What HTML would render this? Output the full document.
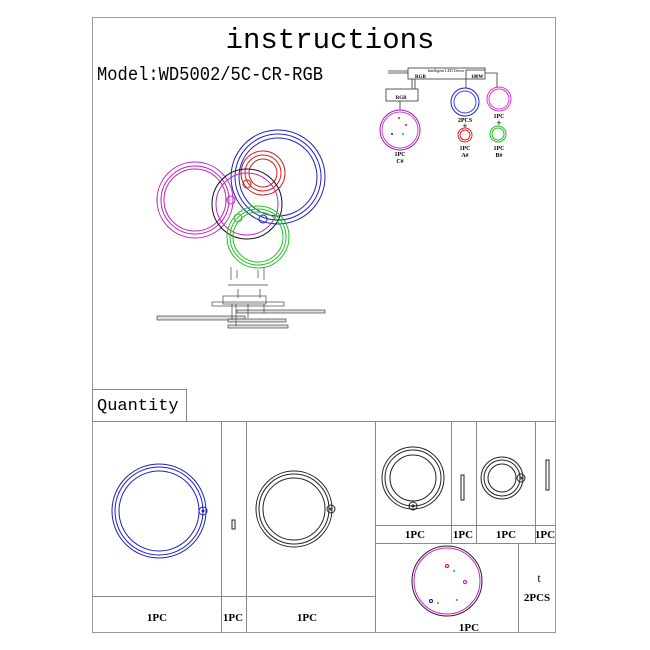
<!DOCTYPE html>
<html><head><style>
body{margin:0;background:#fff;}
svg{display:block;}
</style></head><body>
<svg width="650" height="650" viewBox="0 0 650 650" xmlns="http://www.w3.org/2000/svg" font-family="Liberation Serif, serif">
<rect x="92.5" y="17.5" width="463" height="615" fill="none" stroke="#999" stroke-width="1"/>
<text x="330" y="48" font-size="29" text-anchor="middle" font-family="Liberation Mono, monospace">instructions</text>
<text x="97" y="80" font-size="19" font-family="Liberation Mono, monospace" textLength="226" lengthAdjust="spacingAndGlyphs">Model:WD5002/5C-CR-RGB</text>

<!-- wiring diagram -->
<g fill="none" stroke="#333" stroke-width="0.8">
<rect x="408" y="68" width="77" height="11" fill="#fff"/>
<path d="M388 71H408M388 73H408M485 73H497V88M485 70H466V88M415 79V89M412 79V89"/>
<rect x="386" y="89" width="32" height="12" fill="#fff"/>
<path d="M400 101V110"/>
</g>
<text x="446" y="72" font-size="4" text-anchor="middle">Intelligent LED Driver</text>
<text x="415" y="78" font-size="5" font-weight="bold">RGB</text>
<text x="471" y="78" font-size="5" font-weight="bold">180W</text>
<text x="401" y="99" font-size="5" text-anchor="middle" font-weight="bold">RGB</text>
<g fill="none" stroke-width="1">
<circle cx="400" cy="130" r="20" stroke="#a020a0"/><circle cx="400" cy="130" r="18" stroke="#d040d0"/>
<circle cx="465" cy="102" r="14" stroke="#2020d0"/><circle cx="465" cy="102" r="11" stroke="#4040f0"/>
<circle cx="499" cy="99" r="12" stroke="#e030e0"/><circle cx="499" cy="99" r="10" stroke="#e030e0"/>
<circle cx="465" cy="135" r="7" stroke="#e02020"/><circle cx="465" cy="135" r="5" stroke="#e02020"/>
<circle cx="498" cy="134" r="8" stroke="#20c020"/><circle cx="498" cy="134" r="6" stroke="#20c020"/>
</g>
<circle cx="399" cy="118" r="1" fill="red"/><circle cx="406" cy="125" r="1" fill="#d0d"/><circle cx="392" cy="134" r="1" fill="blue"/><circle cx="403" cy="134" r="1" fill="#0c0"/>
<g font-size="6" font-weight="bold" text-anchor="middle">
<text x="400" y="156">1PC</text><text x="400" y="163">C#</text>
<text x="465" y="122">2PCS</text><text x="465" y="129" font-size="9">+</text>
<text x="499" y="118">1PC</text><text x="499" y="126" font-size="9">+</text>
<text x="465" y="150">1PC</text><text x="465" y="157">A#</text>
<text x="499" y="150">1PC</text><text x="499" y="157">B#</text>
</g>

<!-- exploded rings -->
<g fill="none" stroke-width="1">
<circle cx="195" cy="200" r="38" stroke="#c020c0"/><circle cx="195" cy="200" r="34" stroke="#c020c0"/><circle cx="195" cy="200" r="31" stroke="#c020c0"/>
<circle cx="278" cy="177" r="47" stroke="#2020c0"/><circle cx="278" cy="177" r="43" stroke="#2020c0"/><circle cx="278" cy="177" r="39" stroke="#2020c0"/>
<circle cx="263" cy="173" r="22" stroke="#d02020"/><circle cx="263" cy="173" r="18" stroke="#d02020"/><circle cx="263" cy="173" r="14" stroke="#d02020"/>
<circle cx="247" cy="204" r="35" stroke="#111"/><circle cx="247" cy="204" r="31" stroke="#c020c0"/>
<circle cx="258" cy="237" r="31" stroke="#20c020"/><circle cx="258" cy="237" r="28" stroke="#20c020"/><circle cx="258" cy="237" r="25" stroke="#20c020"/>
<circle cx="247" cy="184" r="4" stroke="#d02020"/><circle cx="231" cy="200" r="4" stroke="#c020c0"/>
<circle cx="238" cy="218" r="4" stroke="#20c020"/><circle cx="263" cy="219" r="4" stroke="#2020c0"/>
</g>
<!-- mounting -->
<g fill="none" stroke="#444" stroke-width="0.7">
<path d="M231 267V280M237 270V278M258 270V278M264 267V280M228 285H268M238 289V298M260 289V298"/>
<rect x="223" y="296" width="43" height="8"/>
<rect x="212" y="302" width="72" height="4"/>
<rect x="157" y="316" width="88" height="4" fill="#ddd"/>
<rect x="237" y="310" width="88" height="3" fill="#ddd"/>
<rect x="228" y="319" width="58" height="3" fill="#ddd"/>
<rect x="228" y="325" width="60" height="3" fill="#ddd"/>
<path d="M232 304V320M236 304V326M248 304V318M264 304V313"/>
</g>

<!-- quantity table -->
<g fill="none" stroke="#888" stroke-width="1">
<rect x="92.5" y="389.5" width="94" height="32"/>
<path d="M92 421.5H556M221.5 421V633M246.5 421V633M375.5 421V633M92 596.5H375"/>
<path d="M451.5 421V543M476.5 421V543M535.5 421V543M375 525.5H556M375 543.5H556M518.5 543V633"/>
</g>
<text x="97" y="410" font-size="17" font-family="Liberation Mono, monospace">Quantity</text>
<g fill="none" stroke="#2020c0">
<circle cx="159" cy="511" r="47"/><circle cx="159" cy="511" r="44"/><circle cx="159" cy="511" r="40"/>
<circle cx="203" cy="511" r="4"/><circle cx="203" cy="511" r="1"/>
</g>
<rect x="232" y="520" width="3" height="9" fill="none" stroke="#222"/>
<g fill="none" stroke="#222">
<circle cx="294" cy="509" r="38"/><circle cx="294" cy="509" r="35"/><circle cx="294" cy="509" r="31"/>
<circle cx="331" cy="509" r="4"/><circle cx="331" cy="509" r="1"/>
<circle cx="413" cy="478" r="31"/><circle cx="413" cy="478" r="28"/><circle cx="413" cy="478" r="23"/>
<circle cx="413" cy="506" r="4"/><circle cx="413" cy="506" r="1"/>
<rect x="461" y="475" width="3" height="25"/>
<circle cx="502" cy="478" r="21"/><circle cx="502" cy="478" r="18"/><circle cx="502" cy="478" r="14"/>
<circle cx="521" cy="478" r="4"/><circle cx="521" cy="478" r="1"/>
<rect x="546" y="460" width="3" height="30"/>
<circle cx="447" cy="581" r="35"/>
</g>
<circle cx="447" cy="581" r="33" fill="none" stroke="#d020d0"/>
<circle cx="447" cy="566" r="1.5" fill="none" stroke="red"/><circle cx="454" cy="571" r="1" fill="#0c0"/><circle cx="465" cy="582" r="1.5" fill="none" stroke="#d0d"/>
<circle cx="431" cy="601" r="1.5" fill="none" stroke="blue"/><circle cx="438" cy="603" r="1" fill="#0c0"/><circle cx="457" cy="600" r="1" fill="#0c0"/>
<g font-size="11" font-weight="bold" text-anchor="middle">
<text x="157" y="621">1PC</text><text x="233" y="621">1PC</text><text x="307" y="621">1PC</text>
<text x="415" y="538">1PC</text><text x="463" y="538">1PC</text><text x="506" y="538">1PC</text><text x="545" y="538">1PC</text>
<text x="469" y="631">1PC</text><text x="537" y="601">2PCS</text><text x="539" y="582" font-weight="normal" font-size="12">t</text>
</g>
</svg>
</body></html>
